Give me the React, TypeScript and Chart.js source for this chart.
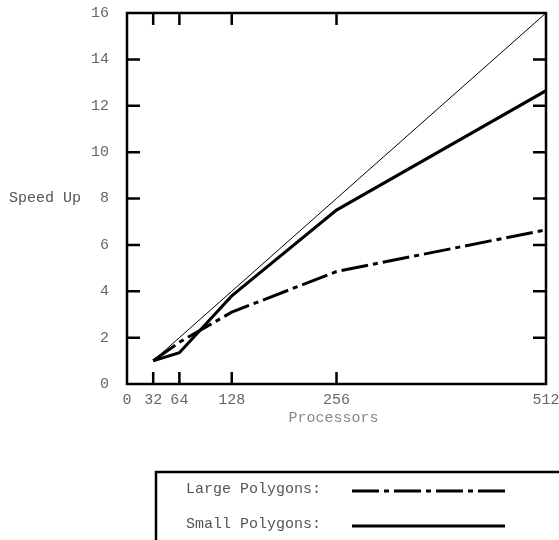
import React, { useEffect, useRef } from "react";
import { Chart, registerables } from "chart.js";

Chart.register(...registerables);

const processors = [32, 64, 128, 256, 512];
const idealSpeedUp = [1, 2, 4, 8, 16];
const smallPolygons = [1, 1.35, 3.8, 7.5, 12.65];
const largePolygons = [1, 1.8, 3.1, 4.85, 6.65];
const xTickValues = [0, 32, 64, 128, 256, 512];
const yTickStep = 2;
const legendLabels = ["Large Polygons:", "Small Polygons:"];
const xTitle = "Processors";
const yTitle = "Speed Up";

const FONT = "'Liberation Mono', 'Courier New', monospace";
const DASH = [27, 5, 5, 5];

const toPoints = (ys: number[]) => processors.map((x, i) => ({ x, y: ys[i] }));

const framePlugin = {
  id: "framePlugin",
  afterDraw(chart: any) {
    const ctx = chart.ctx as CanvasRenderingContext2D;
    const { left, right, top, bottom } = chart.chartArea;
    const xs = chart.scales.x;
    const ys = chart.scales.y;
    ctx.save();
    ctx.strokeStyle = "#000";
    ctx.lineWidth = 2.5;
    ctx.strokeRect(left, top, right - left, bottom - top);
    // inward ticks
    ctx.lineWidth = 2.5;
    ctx.beginPath();
    for (let v = yTickStep; v < 16; v += yTickStep) {
      const py = ys.getPixelForValue(v);
      ctx.moveTo(left, py);
      ctx.lineTo(left + 13, py);
      ctx.moveTo(right, py);
      ctx.lineTo(right - 13, py);
    }
    xTickValues.forEach((v) => {
      if (v <= 0 || v >= 512) return;
      const px = xs.getPixelForValue(v);
      ctx.moveTo(px, bottom);
      ctx.lineTo(px, bottom - 12);
      ctx.moveTo(px, top);
      ctx.lineTo(px, top + 12);
    });
    ctx.stroke();

    // axis titles
    ctx.font = `15px ${FONT}`;
    ctx.fillStyle = "#555";
    ctx.textBaseline = "middle";
    ctx.textAlign = "left";
    ctx.fillText(yTitle, 9, ys.getPixelForValue(8));
    ctx.fillStyle = "#888";
    ctx.textAlign = "center";
    ctx.fillText(xTitle, (left + right) / 2 - 3, 418);

    // legend box
    ctx.strokeStyle = "#000";
    ctx.lineWidth = 2.5;
    ctx.strokeRect(156, 472, 600, 200);
    ctx.fillStyle = "#555";
    ctx.textAlign = "left";
    ctx.textBaseline = "alphabetic";
    ctx.fillText(legendLabels[0], 186, 493);
    ctx.fillText(legendLabels[1], 186, 528);
    ctx.lineWidth = 3;
    ctx.lineCap = "butt";
    ctx.setLineDash(DASH);
    ctx.beginPath();
    ctx.moveTo(352, 491);
    ctx.lineTo(505, 491);
    ctx.stroke();
    ctx.setLineDash([]);
    ctx.beginPath();
    ctx.moveTo(352, 526);
    ctx.lineTo(505, 526);
    ctx.stroke();
    ctx.restore();
  },
};

export default function App() {
  const ref = useRef<HTMLCanvasElement | null>(null);
  useEffect(() => {
    if (!ref.current) return;
    const chart = new Chart(ref.current, {
      type: "scatter",
      data: {
        datasets: [
          {
            label: "Ideal",
            data: toPoints(idealSpeedUp),
            showLine: true,
            borderColor: "#000",
            borderWidth: 1,
            pointRadius: 0,
          },
          {
            label: "Small Polygons",
            data: toPoints(smallPolygons),
            showLine: true,
            borderColor: "#000",
            borderWidth: 3,
            pointRadius: 0,
          },
          {
            label: "Large Polygons",
            data: toPoints(largePolygons),
            showLine: true,
            borderColor: "#000",
            borderWidth: 3,
            borderDash: DASH,
            pointRadius: 0,
          },
        ],
      },
      options: {
        responsive: false,
        animation: false,
        layout: { padding: { top: 13, right: 13, left: 0, bottom: 0 } },
        plugins: { legend: { display: false }, tooltip: { enabled: false } },
        scales: {
          x: {
            type: "linear",
            min: 0,
            max: 512,
            afterBuildTicks: (s: any) => {
              s.ticks = xTickValues.map((v) => ({ value: v }));
            },
            afterFit: (s: any) => {
              s.height = 156;
              s.paddingLeft = 0;
              s.paddingRight = 0;
              s.paddingTop = 0;
              s.paddingBottom = 0;
            },
            grid: { display: false, drawTicks: false },
            border: { display: false },
            ticks: {
              autoSkip: false,
              maxRotation: 0,
              padding: 7,
              color: "#666",
              font: { family: FONT, size: 15 },
            },
          },
          y: {
            type: "linear",
            min: 0,
            max: 16,
            afterFit: (s: any) => {
              s.width = 127;
              s.paddingLeft = 0;
              s.paddingRight = 0;
              s.paddingTop = 0;
              s.paddingBottom = 0;
            },
            grid: { display: false, drawTicks: false },
            border: { display: false },
            ticks: {
              stepSize: yTickStep,
              padding: 18,
              color: "#666",
              font: { family: FONT, size: 15 },
            },
          },
        },
      },
      plugins: [framePlugin],
    });
    return () => chart.destroy();
  }, []);
  return (
    <div style={{ position: "absolute", left: 0, top: 0, width: 559, height: 540, background: "#fff" }}>
      <canvas ref={ref} width={559} height={540} style={{ display: "block" }} />
    </div>
  );
}
